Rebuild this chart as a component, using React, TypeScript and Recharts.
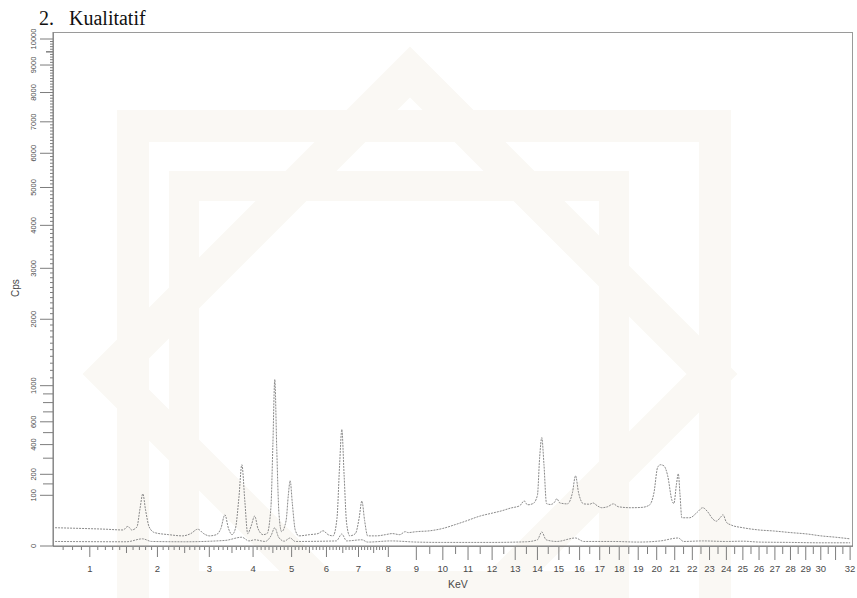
import React from 'react';
import { LineChart, Line, XAxis, YAxis } from 'recharts';

// upper trace (sample spectrum)
const upperKeV = [
  0.62, 0.9, 1.2, 1.45, 1.52, 1.58, 1.66, 1.71, 1.755, 1.8, 1.86, 1.95, 2.2, 2.46, 2.62, 2.76, 2.88, 3.0,
  3.15, 3.25, 3.34, 3.42, 3.5, 3.58, 3.66, 3.73, 3.8, 3.87, 3.95, 4.04, 4.12, 4.25, 4.35, 4.45, 4.5, 4.55,
  4.6, 4.66, 4.73, 4.85, 4.91, 4.96, 5.02, 5.1, 5.2, 5.5, 5.75, 5.9, 6.05, 6.2, 6.32, 6.4, 6.47, 6.54,
  6.62, 6.72, 6.9, 7.02, 7.11, 7.2, 7.3, 7.6, 7.9, 8.14, 8.4, 8.6, 8.7, 9.0, 9.5, 10.0, 10.5, 10.9, 11.5,
  12.0, 12.4, 12.8, 13.2, 13.4, 13.55, 13.8, 14.0, 14.1, 14.2, 14.3, 14.42, 14.6, 14.8, 14.9, 15.05, 15.4,
  15.65, 15.8, 15.95, 16.2, 16.5, 16.66, 16.9, 17.1, 17.4, 17.7, 17.95, 18.6, 19.2, 19.6, 19.85, 20.05,
  20.2, 20.4, 20.6, 20.85, 20.95, 21.1, 21.2, 21.3, 21.4, 21.85, 22.3, 22.6, 22.9, 23.2, 23.4, 23.65,
  23.8, 24.0, 24.3, 25.0, 26.0, 26.9, 28.0, 29.1, 30.0, 31.0, 32.0,
];
const upperCps = [
  13, 12, 11, 10, 15, 10, 14, 55, 106, 50, 14, 7, 5, 4, 6, 11, 6, 4,
  5, 12, 38, 12, 5, 12, 90, 257, 80, 6, 15, 35, 12, 5, 6, 60, 400, 1080,
  380, 40, 8, 25, 100, 166, 70, 10, 4, 5, 6, 9, 5, 4, 30, 250, 528, 200,
  20, 4, 6, 30, 79, 25, 4, 4, 5, 6, 5, 8, 7, 8, 9, 12, 18, 24, 35,
  42, 48, 56, 63, 79, 66, 70, 100, 300, 457, 260, 70, 67, 75, 87, 72, 69,
  110, 192, 110, 69, 68, 72, 62, 57, 60, 69, 60, 57, 58, 65, 110, 240,
  257, 250, 195, 80, 70, 150, 203, 100, 31, 31, 45, 57, 45, 28, 24, 32,
  38, 22, 17, 13, 10, 8.8, 7, 5.6, 4, 3, 2,
];

// lower trace (blank)
const lowerKeV = [
  0.62, 1.5, 1.75, 1.9, 2.5, 3.34, 3.73, 3.9, 4.04, 4.3, 4.45, 4.55, 4.65, 4.8, 4.96, 5.1, 6.3, 6.47,
  6.62, 7.11, 7.3, 8.1, 9.0, 10.0, 12.0, 13.5, 14.0, 14.2, 14.4, 14.9, 15.8, 16.2, 17.7, 19.0, 20.2,
  21.2, 21.5, 22.6, 24.0, 25.0, 26.0, 28.0, 30.0, 32.0,
];
const lowerCps = [
  0.8, 0.7, 2, 0.8, 0.7, 1.2, 3, 1, 1.5, 0.8, 4, 13, 3, 0.9, 2.5, 0.8, 1, 5.6,
  1, 1.5, 0.6, 1, 0.6, 0.5, 0.5, 0.7, 1.5, 7.7, 1.5, 0.8, 2.5, 0.8, 0.8, 0.6, 1,
  2.5, 0.8, 1, 0.8, 0.9, 0.6, 0.5, 0.4, 0.4,
];

const xLabels = [
  1, 2, 3, 4, 5, 6, 7, 8, 9, 10, 11, 12, 13, 14, 15, 16, 17, 18, 19, 20, 21, 22, 23, 24, 25, 26, 27,
  28, 29, 30, 32,
];
const yLabels = [0, 100, 200, 400, 600, 1000, 2000, 3000, 4000, 5000, 6000, 7000, 8000, 9000, 10000];

const upper = upperKeV.map((e, i) => ({ e, c: upperCps[i] }));
const lower = lowerKeV.map((e, i) => ({ e, c: lowerCps[i] }));

// energy ticks: 0.1 keV steps up to 8, half steps above 9
const xTicks: number[] = [];
for (let i = 7; i <= 80; i++) xTicks.push(i / 10);
for (let i = 18; i <= 64; i++) xTicks.push(i / 2);

// count ticks: 100 steps, with 150 and 9500 marks
const yTicks: number[] = [0, 150];
for (let i = 1; i <= 100; i++) yTicks.push(i * 100);
yTicks.push(9500);

const axisGrey = '#7d7d7d';
const textGrey = '#4a4a4a';
const sans = '"Liberation Sans", Arial, sans-serif';

const XTick = (props: any) => {
  const { x, y, payload } = props;
  const v: number = payload.value;
  const whole = Math.abs(v - Math.round(v)) < 1e-6;
  const half = Math.abs(v * 2 - Math.round(v * 2)) < 1e-6;
  let len = 3;
  if (whole) len = v >= 9 ? 13 : 10;
  else if (half) len = v >= 9 ? 7 : 6;
  const labelled = whole && xLabels.includes(Math.round(v));
  return (
    <g>
      <line x1={x} x2={x} y1={y + 1} y2={y + 1 + len} stroke={axisGrey} strokeWidth={1} />
      {labelled && (
        <text x={x} y={y + 26} textAnchor="middle" fontSize={9.5} fontFamily={sans} fill={textGrey}>
          {Math.round(v)}
        </text>
      )}
    </g>
  );
};

const YTick = (props: any) => {
  const { x, y, payload } = props;
  const v: number = payload.value;
  const labelled = yLabels.includes(v);
  let len = 3;
  if (labelled || v % 1000 === 0) len = 13;
  else if (v <= 1000) len = 10;
  else if (v === 9500) len = 7;
  return (
    <g>
      <line x1={x - len} x2={x} y1={y} y2={y} stroke={axisGrey} strokeWidth={1} />
      {labelled && (
        <text
          x={x - 20}
          y={y}
          dy="0.35em"
          textAnchor="middle"
          fontSize={7.5}
          fontFamily={sans}
          fill={textGrey}
          transform={`rotate(-90, ${x - 20}, ${y})`}
        >
          {v}
        </text>
      )}
    </g>
  );
};

// faint background emblem, heading and the plot frame
const Backdrop = () => (
  <svg width={857} height={598} style={{ position: 'absolute', left: 0, top: 0 }}>
    <g fill="none" stroke="#faf8f4">
      <rect x={133} y={126} width={582} height={520} strokeWidth={32} />
      <polygon points="410,72 712,374 410,676 108,374" strokeWidth={36} />
      <rect x={184} y={186} width={430} height={400} strokeWidth={30} />
    </g>
    <rect x={53.5} y={32.5} width={799} height={514} fill="none" stroke="#9a9a9a" strokeWidth={1} />
    <text y={25} fontSize={20} fontFamily='"Liberation Serif", "Times New Roman", serif' fill="#111">
      <tspan x={39}>2.</tspan>
      <tspan x={69}>Kualitatif</tspan>
    </text>
  </svg>
);

export default function App() {
  return (
    <div style={{ position: 'fixed', left: 0, top: 0, width: 857, height: 598, background: '#fff' }}>
      <Backdrop />
      <div style={{ position: 'absolute', left: 0, top: 0 }}>
        <LineChart width={857} height={598} margin={{ top: 32, right: 4, left: 0, bottom: 0 }}>
          <XAxis
            type="number"
            dataKey="e"
            scale="sqrt"
            domain={[0.6, 32.2]}
            allowDataOverflow
            ticks={xTicks}
            interval={0}
            tick={<XTick />}
            tickLine={false}
            tickSize={0}
            tickMargin={0}
            height={52}
            stroke={axisGrey}
            label={{ value: 'KeV', position: 'insideTopLeft', dx: 390, dy: 30, fontSize: 10.5, fontFamily: sans, fill: textGrey }}
          />
          <YAxis
            type="number"
            scale="sqrt"
            domain={[0, 10000]}
            allowDataOverflow
            padding={{ top: 7 }}
            ticks={yTicks}
            interval={0}
            tick={<YTick />}
            tickLine={false}
            tickSize={0}
            tickMargin={0}
            width={53}
            stroke={axisGrey}
            label={{ value: 'Cps', angle: -90, position: 'insideLeft', dx: 10, dy: 8, fontSize: 10, fontFamily: sans, fill: textGrey }}
          />
          <Line
            data={upper}
            dataKey="c"
            type="monotone"
            stroke="#8a8a8a"
            strokeWidth={1}
            strokeDasharray="2 1"
            dot={false}
            isAnimationActive={false}
          />
          <Line
            data={lower}
            dataKey="c"
            type="monotone"
            stroke="#8f8f8f"
            strokeWidth={1}
            strokeDasharray="2 1"
            dot={false}
            isAnimationActive={false}
          />
        </LineChart>
      </div>
    </div>
  );
}
